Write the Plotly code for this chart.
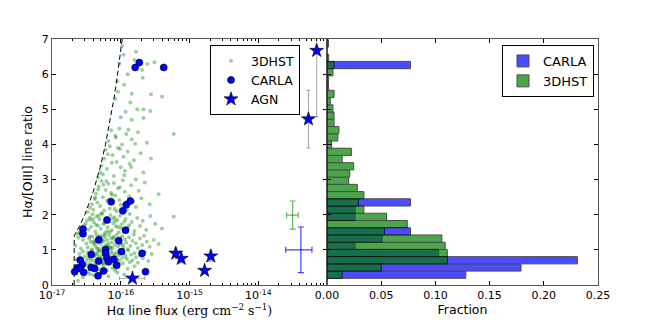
import numpy as np
import plotly.graph_objects as go


#### 3DHST scatter: log10 Halpha flux, Halpha/[OIII]
hst_logflux_a = [-16.62, -16.55, -16.40, -16.30, -16.18, -16.05, -16.48, -16.58, -16.42, -16.33,
                 -16.25, -16.12, -16.02, -15.90, -16.50, -16.64, -16.36, -16.20, -15.80, -16.08,
                 -16.45, -15.95]
hst_ratio_a = [0.12, 0.22, 0.28, 0.33, 0.25, 0.35, 0.38, 0.45, 0.50, 0.44,
               0.55, 0.48, 0.58, 0.46, 0.57, 0.52, 0.58, 0.42, 0.53, 0.41,
               0.31, 0.30]

hst_logflux_b = [-16.65, -16.60, -16.57, -16.55, -16.52, -16.50, -16.48, -16.47, -16.45, -16.43,
                 -16.42, -16.40, -16.39, -16.37, -16.36, -16.35, -16.34, -16.33, -16.31, -16.30,
                 -16.29, -16.28, -16.27, -16.26, -16.25, -16.24, -16.23, -16.22, -16.21, -16.20,
                 -16.19, -16.18, -16.17, -16.16, -16.15, -16.14, -16.13, -16.12, -16.11, -16.10,
                 -16.08, -16.07, -16.06, -16.05, -16.03, -16.02, -16.00, -15.98, -15.97, -15.95,
                 -15.93, -15.91, -15.89, -15.87, -15.85, -15.83, -15.80, -15.78, -15.75, -15.72,
                 -15.68, -15.65, -15.60, -15.55, -16.44, -16.32, -16.26, -16.38, -16.09, -15.99]
hst_ratio_b = [0.72, 0.88, 0.65, 0.95, 0.81, 0.69, 0.93, 0.77, 0.62, 0.85,
               0.98, 0.70, 0.83, 0.61, 0.91, 0.74, 0.87, 0.66, 0.79, 0.96,
               0.68, 0.84, 0.73, 0.99, 0.63, 0.89, 0.76, 0.92, 0.67, 0.82,
               0.94, 0.71, 0.86, 0.64, 0.78, 0.97, 0.75, 0.90, 0.60, 0.80,
               0.87, 0.66, 0.93, 0.72, 0.84, 0.69, 0.95, 0.77, 0.62, 0.89,
               0.81, 0.74, 0.98, 0.65, 0.86, 0.70, 0.91, 0.79, 0.63, 0.83,
               0.76, 0.94, 0.68, 0.88, 0.73, 0.97, 0.61, 0.85, 0.78, 0.92]

hst_logflux_c = [-16.66, -16.62, -16.58, -16.55, -16.53, -16.50, -16.48, -16.46, -16.44, -16.42,
                 -16.41, -16.39, -16.38, -16.36, -16.35, -16.33, -16.32, -16.30, -16.29, -16.28,
                 -16.26, -16.25, -16.24, -16.22, -16.21, -16.20, -16.18, -16.17, -16.16, -16.14,
                 -16.13, -16.12, -16.10, -16.09, -16.07, -16.06, -16.04, -16.03, -16.01, -16.00,
                 -15.98, -15.96, -15.94, -15.92, -15.90, -15.88, -15.86, -15.83, -15.81, -15.78,
                 -15.75, -15.72, -15.69, -15.66, -15.62, -15.58, -15.52, -15.45, -16.45, -16.34,
                 -16.27, -16.19, -16.11, -16.37, -16.23, -16.15, -16.05, -15.97, -16.31, -16.40]
hst_ratio_c = [1.12, 1.35, 1.04, 1.28, 1.41, 1.18, 1.07, 1.32, 1.23, 1.01,
               1.38, 1.15, 1.26, 1.09, 1.44, 1.20, 1.03, 1.31, 1.17, 1.40,
               1.06, 1.25, 1.36, 1.13, 1.02, 1.29, 1.19, 1.42, 1.08, 1.33,
               1.22, 1.05, 1.37, 1.14, 1.27, 1.43, 1.10, 1.24, 1.34, 1.16,
               1.39, 1.07, 1.30, 1.21, 1.02, 1.36, 1.11, 1.26, 1.44, 1.19,
               1.05, 1.32, 1.14, 1.40, 1.23, 1.09, 1.28, 1.17, 1.38, 1.03,
               1.25, 1.12, 1.34, 1.20, 1.42, 1.06, 1.30, 1.15, 1.37, 1.22]

hst_logflux_d = [-16.63, -16.60, -16.57, -16.55, -16.53, -16.51, -16.49, -16.47, -16.45, -16.43,
                 -16.41, -16.39, -16.37, -16.35, -16.33, -16.31, -16.29, -16.27, -16.25, -16.23,
                 -16.21, -16.19, -16.17, -16.15, -16.13, -16.11, -16.09, -16.07, -16.05, -16.03,
                 -16.01, -15.99, -15.96, -15.93, -15.90, -15.87, -15.84, -15.80, -15.76, -15.72,
                 -15.68, -15.63, -15.57, -15.50, -15.40, -15.23, -16.44, -16.36, -16.28, -16.20,
                 -16.12, -16.04, -15.95, -16.32, -16.24, -16.16, -16.08, -16.40, -15.88, -16.00]
hst_ratio_d = [1.46, 1.49, 1.55, 1.62, 1.70, 1.75, 1.84, 1.58, 1.92, 1.66,
               2.01, 1.78, 1.52, 1.95, 1.69, 1.87, 1.60, 2.03, 1.73, 1.48,
               1.90, 1.64, 1.81, 1.99, 1.56, 1.76, 1.93, 1.67, 1.85, 1.50,
               1.97, 1.72, 1.59, 1.88, 1.63, 2.02, 1.79, 1.54, 1.91, 1.68,
               1.83, 1.57, 1.96, 1.74, 1.61, 1.94, 1.86, 1.71, 2.04, 1.53,
               1.89, 1.65, 1.80, 1.98, 1.77, 1.51, 1.82, 1.88, 1.70, 1.62]

hst_logflux_e = [-16.48, -16.45, -16.42, -16.40, -16.38, -16.36, -16.34, -16.32, -16.30, -16.28,
                 -16.26, -16.24, -16.22, -16.20, -16.18, -16.16, -16.14, -16.12, -16.10, -16.08,
                 -16.06, -16.04, -16.02, -16.00, -15.97, -15.94, -15.91, -15.88, -15.85, -15.82,
                 -15.78, -15.74, -15.70, -15.65, -15.58, -15.45, -16.33, -16.25, -16.17, -16.09,
                 -16.01, -15.92, -16.21, -16.13, -16.37]
hst_ratio_e = [2.08, 2.20, 2.30, 2.15, 2.45, 2.60, 2.35, 2.80, 2.25, 2.95,
               2.50, 2.12, 2.70, 2.40, 2.88, 2.18, 2.62, 2.33, 2.90, 2.55,
               2.10, 2.75, 2.42, 2.28, 2.98, 2.65, 2.14, 2.52, 2.84, 2.38,
               2.22, 2.68, 2.47, 2.92, 2.30, 2.58, 2.72, 2.85, 2.44, 2.16,
               2.78, 2.36, 2.96, 2.56, 2.48]

hst_logflux_f = [-16.33, -16.30, -16.28, -16.26, -16.24, -16.22, -16.20, -16.18, -16.16, -16.14,
                 -16.12, -16.10, -16.08, -16.06, -16.04, -16.02, -16.00, -15.98, -15.96, -15.94,
                 -15.92, -15.90, -15.87, -15.84, -15.81, -15.78, -15.75, -15.71, -15.67, -15.62,
                 -15.56, -15.23, -16.13, -16.07, -16.01, -15.95, -15.89, -16.19, -15.85, -15.79]
hst_ratio_f = [3.05, 3.20, 3.40, 3.15, 3.60, 3.85, 3.30, 4.10, 3.95, 4.40,
               3.70, 3.10, 4.25, 3.50, 3.90, 4.45, 3.35, 4.00, 3.65, 3.25,
               4.30, 3.80, 3.45, 4.15, 3.55, 3.00, 4.35, 3.75, 3.20, 4.05,
               3.60, 4.30, 3.48, 4.20, 3.88, 3.12, 4.42, 3.72, 3.36, 4.02]

hst_logflux_g = [-15.96, -15.78, -15.61, -15.51, -15.69, -15.68, -15.56, -15.40, -15.84, -15.86,
                 -15.76, -15.67, -15.57, -15.93, -16.00, -15.84, -15.67, -16.02, -16.05, -16.08,
                 -15.98, -15.90, -16.04, -15.95, -15.80]
hst_ratio_g = [6.55, 6.64, 6.29, 6.34, 6.12, 5.90, 5.43, 5.36, 5.44, 5.19,
               5.00, 5.00, 4.95, 4.93, 4.77, 4.70, 4.75, 6.30, 5.80, 5.30,
               6.80, 6.00, 5.50, 5.70, 6.40]

#### CARLA
carla_logflux = [-15.79, -15.73, -15.375, -16.14, -15.92, -15.86, -15.97, -16.20,
                 -16.55, -16.55, -15.93, -16.32, -16.03, -15.69, -15.99, -16.22,
                 -16.22, -16.43, -16.20, -16.10, -16.59, -16.32, -16.18, -16.06,
                 -16.56, -16.63, -16.59, -16.43, -16.38, -16.25, -16.54, -16.67,
                 -15.64, -16.33]
carla_ratio = [6.19, 6.33, 6.19, 2.37, 2.28, 2.39, 2.11, 1.85,
               1.59, 1.46, 1.56, 1.29, 1.26, 0.90, 0.95, 1.01,
               0.90, 0.87, 0.76, 0.73, 0.71, 0.68, 0.66, 0.56,
               0.58, 0.49, 0.47, 0.50, 0.47, 0.40, 0.36, 0.38,
               0.38, 0.26]

#### AGN
agn_logflux = [-15.83, -15.20, -15.12, -14.69, -14.78, -13.27, -13.15]
agn_ratio = [0.19, 0.90, 0.75, 0.82, 0.41, 4.72, 6.67]
agn_ratio_err = [0.05, 0.15, 0.12, 0.15, 0.05, 0.82, 1.88]
agn_flux_err_plus = [7.6e-17, 0, 0, 0, 0, 0, 0]
agn_flux_err_minus = [5.2e-17, 0, 0, 0, 0, 0, 0]

#### typical errors
typ_flux = [3.16e-14, 4.17e-14]
typ_ratio = [1.99, 1.00]
typ_ratio_err = [0.40, 0.65]
typ_flux_err_plus = [0.65e-14, 1.87e-14]
typ_flux_err_minus = [0.58e-14, 1.66e-14]

#### flux limit line
lim_flux = [2.1e-17, 2.1e-17, 2.5e-17, 3e-17, 4e-17, 5e-17, 6e-17, 7e-17, 8e-17, 9e-17, 1.0e-16, 1.05e-16]
lim_ratio = [0, 1.4, 1.67, 2.0, 2.67, 3.33, 4.0, 4.67, 5.33, 6.0, 6.67, 7.0]

#### histograms
hist_ratio_center = [0.293, 0.499, 0.704, 0.910, 1.116, 1.321, 1.527, 1.733, 1.939, 2.144,
                     2.350, 2.556, 2.761, 2.967, 3.173, 3.379, 3.584, 3.790, 3.996, 4.201,
                     4.407, 4.613, 4.819, 5.024, 5.230, 5.436, 5.642, 5.847, 6.053, 6.259,
                     6.464, 6.670, 6.876]
hist_frac_carla = [0.128, 0.179, 0.231, 0.103, 0.026, 0.051, 0.077, None, 0.026, 0.026,
                   0.077, None, None, None, None, None, None, None, None, None,
                   None, None, None, None, None, None, None, None, None, 0.077,
                   None, None, None]
hist_frac_3dhst = [0.014, 0.050, 0.111, 0.111, 0.109, 0.106, 0.053, 0.074, 0.055, 0.034,
                   0.029, 0.034, 0.028, 0.020, 0.021, 0.0246, 0.014, 0.0225, 0.0043, 0.010,
                   0.011, 0.0065, 0.0065, 0.0055, 0.003, 0.0065, 0.0014, 0.0015, 0.0055, 0.0065,
                   0.0015, None, 0.0014]
hist_bin_width = 0.2057


hst_logflux = hst_logflux_a + hst_logflux_b + hst_logflux_c + hst_logflux_d + hst_logflux_e + hst_logflux_f + hst_logflux_g
hst_ratio = hst_ratio_a + hst_ratio_b + hst_ratio_c + hst_ratio_d + hst_ratio_e + hst_ratio_f + hst_ratio_g

font_family = "DejaVu Sans"
axis_color = "#555555"

fig = go.Figure()

fig.add_scatter(
    x=np.power(10.0, hst_logflux), y=hst_ratio, mode="markers", name="3DHST",
    marker=dict(color="#008000", size=4, opacity=0.38, line=dict(width=0)),
    xaxis="x", yaxis="y", legend="legend",
)

fig.add_scatter(
    x=lim_flux, y=lim_ratio, mode="lines", showlegend=False,
    line=dict(color="black", width=1, dash="5px,3px"),
    xaxis="x", yaxis="y",
)

fig.add_scatter(
    x=np.power(10.0, carla_logflux), y=carla_ratio, mode="markers", name="CARLA",
    marker=dict(color="#0000ff", size=7, line=dict(color="black", width=0.6)),
    xaxis="x", yaxis="y", legend="legend",
)

fig.add_scatter(
    x=np.power(10.0, agn_logflux), y=agn_ratio, mode="markers", name="AGN",
    marker=dict(color="#0000ff", symbol="star", size=10.5, line=dict(color="black", width=0.6)),
    error_y=dict(type="data", array=agn_ratio_err, color="rgba(128,128,128,0.7)", thickness=1, width=2),
    error_x=dict(type="data", array=agn_flux_err_plus, arrayminus=agn_flux_err_minus,
                 color="rgba(128,128,128,0.7)", thickness=1, width=2),
    xaxis="x", yaxis="y", legend="legend",
)

typ_colors = ["rgba(0,128,0,0.6)", "rgba(0,0,255,0.75)"]
for i in range(2):
    fig.add_scatter(
        x=[typ_flux[i]], y=[typ_ratio[i]], mode="markers", showlegend=False,
        marker=dict(size=1, color="rgba(0,0,0,0)"),
        error_y=dict(type="data", array=[typ_ratio_err[i]], color=typ_colors[i], thickness=1.2, width=3),
        error_x=dict(type="data", array=[typ_flux_err_plus[i]], arrayminus=[typ_flux_err_minus[i]],
                     color=typ_colors[i], thickness=1.2, width=3),
        xaxis="x", yaxis="y",
    )

fig.add_bar(
    y=hist_ratio_center, x=hist_frac_carla, orientation="h", name="CARLA", width=hist_bin_width,
    marker=dict(color="#0000ff", line=dict(color="black", width=1)), opacity=0.7,
    xaxis="x2", yaxis="y2", legend="legend2",
)
fig.add_bar(
    y=hist_ratio_center, x=hist_frac_3dhst, orientation="h", name="3DHST", width=hist_bin_width,
    marker=dict(color="#008000", line=dict(color="black", width=1)), opacity=0.7,
    xaxis="x2", yaxis="y2", legend="legend2",
)

major_flux = [1e-17, 1e-16, 1e-15, 1e-14, 1e-13]
major_text = ["10<sup>-17</sup>", "10<sup>-16</sup>", "10<sup>-15</sup>", "10<sup>-14</sup>", " "]
minor_flux = [m * d for d in [1e-17, 1e-16, 1e-15, 1e-14] for m in range(2, 10)]

split = 275 / 546

axis_common = dict(
    showline=True, linecolor=axis_color, linewidth=1, mirror="allticks",
    ticks="inside", tickcolor="black", ticklen=4, tickwidth=1,
    showgrid=False, zeroline=False, automargin=False,
    tickfont=dict(family=font_family, size=11, color="black"),
)

fig.update_layout(
    width=650, height=325,
    margin=dict(l=52, r=52, t=39, b=40),
    paper_bgcolor="white", plot_bgcolor="white",
    font=dict(family=font_family, size=12, color="black"),
    barmode="overlay",
    xaxis=dict(
        type="log", range=[-17, -13], domain=[0, split], anchor="y",
        tickmode="array", tickvals=major_flux, ticktext=major_text,
        minor=dict(tickmode="array", tickvals=minor_flux, ticks="inside", ticklen=2, tickcolor="black", showgrid=False),
        title=dict(text="Hα line flux <span style='font-family:DejaVu Serif'>(erg cm<sup>−2</sup> s<sup>−1</sup>)</span>",
                   font=dict(size=12.5), standoff=4),
        **axis_common,
    ),
    yaxis=dict(
        range=[0, 7], dtick=1, anchor="x",
        title=dict(text="Hα/[OIII] line ratio", font=dict(size=12.5), standoff=6),
        **axis_common,
    ),
    xaxis2=dict(
        range=[0, 0.25], domain=[split, 1], anchor="y2",
        tickmode="array", tickvals=[0, 0.05, 0.10, 0.15, 0.20, 0.25], tickformat=".2f",
        title=dict(text="Fraction", font=dict(size=12.5), standoff=4),
        **axis_common,
    ),
    yaxis2=dict(
        range=[0, 7], dtick=1, anchor="x2", matches="y", showticklabels=False,
        **axis_common,
    ),
    legend=dict(
        x=(210 - 52) / 546, y=(285 - 45) / 246, xanchor="left", yanchor="top",
        bgcolor="white", bordercolor="black", borderwidth=1,
        font=dict(family=font_family, size=12.5), itemsizing="trace",
    ),
    legend2=dict(
        x=(502 - 52) / 546, y=(285 - 45) / 246, xanchor="left", yanchor="top",
        bgcolor="white", bordercolor="black", borderwidth=1,
        font=dict(family=font_family, size=13),
    ),
)

fig.write_html("out.html", config={"displayModeBar": False},
               post_script="document.body.style.margin = '0';")
